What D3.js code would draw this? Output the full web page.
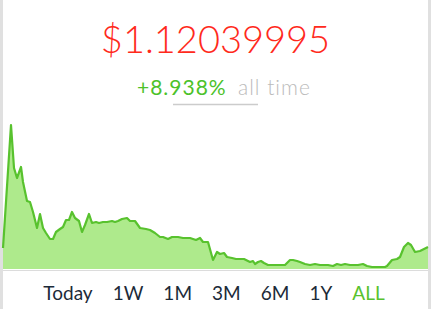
<!DOCTYPE html>
<html>
<head>
<meta charset="utf-8">
<script src="https://cdn.jsdelivr.net/npm/d3@7"></script>
<style>
  body { margin: 0; background: #fff; }
  text { font-family: "Lato", "Open Sans", sans-serif; }
</style>
</head>
<body>
<div id="chart"></div>
<script>
var width = 431;
var height = 309;

// values
var price = "$1.12039995";
var change = "+8.938%";
var period = "all time";
var ranges = ["Today", "1W", "1M", "3M", "6M", "1Y", "ALL"];
var activeRange = "ALL";

var days = [0, 8, 11, 14, 18, 20, 24, 27, 30, 34, 37, 40, 43, 47, 50, 53, 57, 60, 63, 66, 69, 72, 76, 79, 82, 86, 89, 93, 96, 100,
  104, 109, 112, 115, 119, 124, 127, 132, 137, 143, 147, 152, 157, 160, 165, 169, 175, 180, 187, 193, 197, 200, 205, 210, 214, 217, 221, 224, 229, 233,
  237, 241, 243, 247, 250, 252, 255, 258, 261, 265, 269, 273, 277, 282, 284, 287, 290, 294, 297, 302, 307, 312, 317, 325, 330, 334, 338, 342, 347, 355,
  360, 364, 369, 375, 382, 384, 389, 394, 397, 401, 405, 408, 412, 417, 425];
var values = [1.05, 7.20, 5.05, 4.55, 5.10, 4.35, 3.40, 3.35, 2.85, 2.05, 2.75, 2.05, 1.80, 1.50, 1.50, 1.85, 2.00, 2.10, 2.45, 2.45, 2.85, 2.55, 2.40, 1.85, 2.20, 2.75, 2.30, 2.35, 2.30, 2.35,
  2.35, 2.40, 2.35, 2.40, 2.50, 2.55, 2.40, 2.40, 2.05, 2.00, 1.95, 1.80, 1.60, 1.60, 1.50, 1.60, 1.60, 1.55, 1.55, 1.45, 1.55, 1.35, 1.35, 0.45, 0.85, 0.75, 0.80, 0.60, 0.55, 0.50,
  0.50, 0.50, 0.45, 0.35, 0.40, 0.25, 0.35, 0.40, 0.30, 0.20, 0.20, 0.20, 0.20, 0.20, 0.30, 0.45, 0.45, 0.40, 0.35, 0.25, 0.20, 0.25, 0.20, 0.20, 0.15, 0.25, 0.20, 0.25, 0.20, 0.20,
  0.25, 0.15, 0.10, 0.10, 0.10, 0.15, 0.45, 0.50, 0.60, 1.10, 1.30, 1.20, 0.85, 0.90, 1.10];

var data = days.map(function(d, i) { return { day: d, value: values[i] }; });

var svg = d3.select("#chart").append("svg")
  .attr("width", width)
  .attr("height", height);

// side borders
svg.append("rect").attr("x", 0).attr("y", 0).attr("width", 3).attr("height", height).attr("fill", "#e0e0e0");
svg.append("rect").attr("x", 428).attr("y", 0).attr("width", 3).attr("height", height).attr("fill", "#e0e0e0");

var x = d3.scaleLinear().domain([0, 425]).range([3, 428]);
var y = d3.scaleLinear().domain([0, 7.2]).range([269, 125]);

var area = d3.area()
  .x(function(d) { return x(d.day); })
  .y0(y(0))
  .y1(function(d) { return y(d.value); });

var line = d3.line()
  .x(function(d) { return x(d.day); })
  .y(function(d) { return y(d.value); });

svg.append("path").datum(data)
  .attr("d", area)
  .attr("fill", "#aeea8c");

svg.append("path").datum(data)
  .attr("d", line)
  .attr("fill", "none")
  .attr("stroke", "#58c22e")
  .attr("stroke-width", 2.2)
  .attr("stroke-linejoin", "round");

// baseline
svg.append("line")
  .attr("x1", 3).attr("x2", 428)
  .attr("y1", 270.5).attr("y2", 270.5)
  .attr("stroke", "#dcdcdc")
  .attr("stroke-width", 1);

// header
svg.append("text")
  .text(price)
  .attr("x", 215.5)
  .attr("y", 53)
  .attr("text-anchor", "middle")
  .attr("fill", "#ff2a1c")
  .style("font-size", "38px")
  .style("font-weight", 300);

svg.append("text")
  .text(change)
  .attr("x", 137)
  .attr("y", 95)
  .attr("fill", "#4cc22a")
  .style("font-size", "21px")
  .style("letter-spacing", "1px");

svg.append("text")
  .text(period)
  .attr("x", 238)
  .attr("y", 95)
  .attr("fill", "#bbbbbb")
  .style("font-size", "21px")
  .style("letter-spacing", "1px")
  .style("font-weight", 300);

svg.append("line")
  .attr("x1", 173).attr("x2", 258)
  .attr("y1", 104.5).attr("y2", 104.5)
  .attr("stroke", "#cccccc")
  .attr("stroke-width", 1.5);

// range buttons, laid out one after another
var labels = svg.selectAll(".range")
  .data(ranges)
  .enter().append("text")
  .attr("class", "range")
  .text(function(d) { return d; })
  .attr("y", 300)
  .attr("fill", function(d) { return d === activeRange ? "#58c22e" : "#1c2a38"; })
  .style("font-size", "19px");

var gap = 20;
var total = -gap;
labels.each(function() { total += this.getComputedTextLength() + gap; });
var cursor = 214 - total / 2;
labels.each(function() {
  d3.select(this).attr("x", cursor);
  cursor += this.getComputedTextLength() + gap;
});
</script>
</body>
</html>
